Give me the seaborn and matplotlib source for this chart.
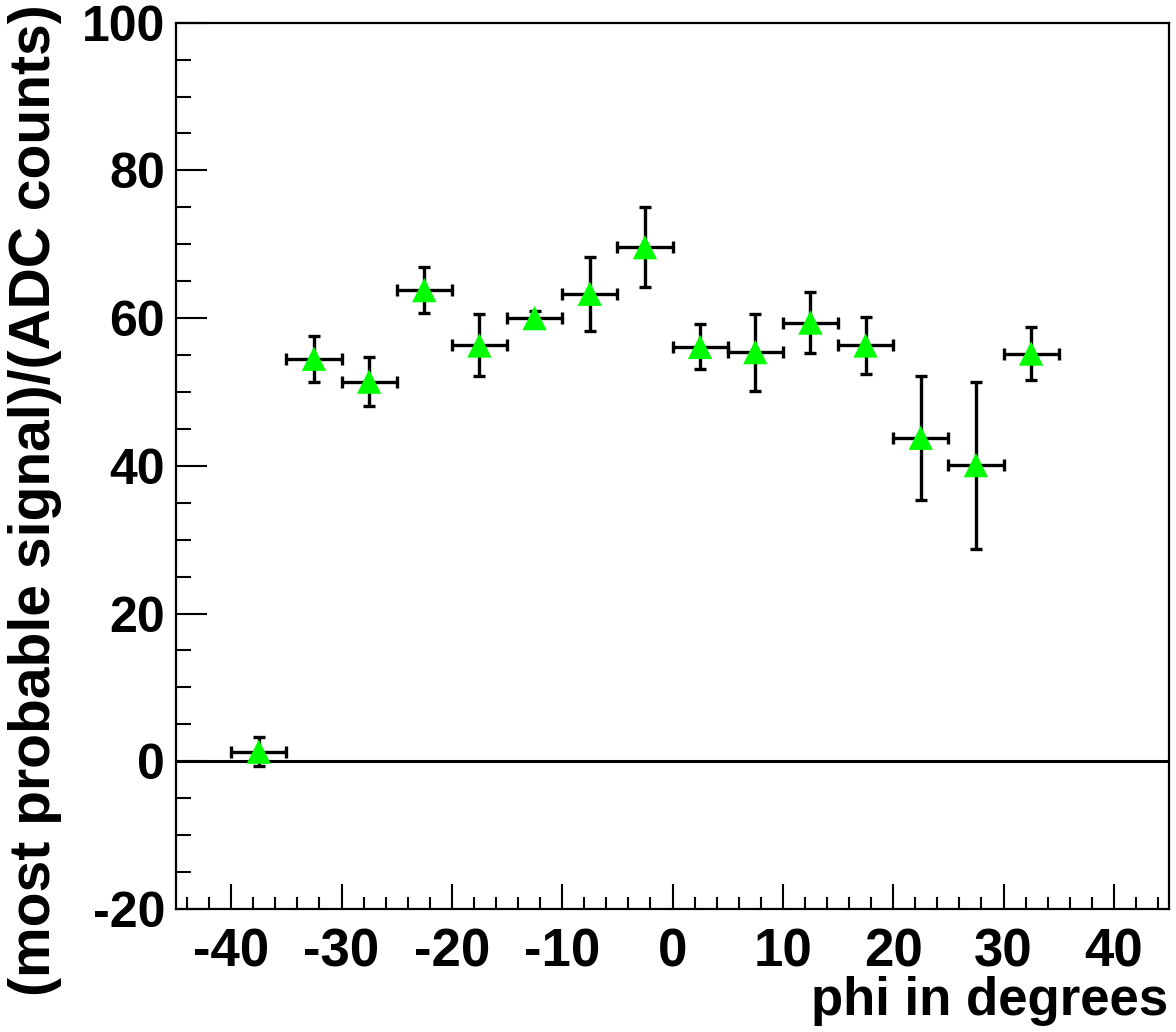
import matplotlib
matplotlib.use("Agg")
import matplotlib.pyplot as plt
from matplotlib.ticker import MultipleLocator
import seaborn as sns
import pandas as pd

# Bin centres (degrees), half bin width, most probable signal and its error
phi = [-37.5, -32.5, -27.5, -22.5, -17.5, -12.5, -7.5, -2.5,
       2.5, 7.5, 12.5, 17.5, 22.5, 27.5, 32.5]
phi_err = [2.5] * 15
signal = [1.3, 54.5, 51.4, 63.8, 56.3, 60.0, 63.3, 69.6,
          56.1, 55.4, 59.4, 56.3, 43.8, 40.1, 55.2]
signal_err = [2.0, 3.1, 3.3, 3.15, 4.2, 1.0, 5.0, 5.45,
              3.05, 5.2, 4.15, 3.8, 8.4, 11.3, 3.6]

x_ticks = [-40, -30, -20, -10, 0, 10, 20, 30, 40]
y_ticks = [-20, 0, 20, 40, 60, 80, 100]

df = pd.DataFrame({"phi": phi, "signal": signal})

sns.set_theme(style="ticks")
plt.rcParams["font.family"] = ["Liberation Sans", "DejaVu Sans"]
plt.rcParams["font.weight"] = "bold"
plt.rcParams["axes.unicode_minus"] = False

W, H = 1176, 1032
fig = plt.figure(figsize=(W / 100, H / 100), dpi=100)
ax = fig.add_axes([176 / W, 1 - 909 / H, (1169 - 176) / W, (909 - 22.7) / H])

ax.errorbar(phi, signal, xerr=phi_err, yerr=signal_err, fmt="none",
            ecolor="black", elinewidth=2.4, capsize=4.5, capthick=2.4, zorder=3)
sns.scatterplot(data=df, x="phi", y="signal", marker="^", s=17.5 ** 2,
                color="#00ff00", edgecolor="none", linewidth=0, zorder=4, ax=ax)

ax.axhline(0, color="black", lw=2.2, zorder=2)

ax.set_xlim(-45, 45)
ax.set_ylim(-20, 100)
ax.set_xticks(x_ticks)
ax.set_yticks(y_ticks)
ax.xaxis.set_minor_locator(MultipleLocator(2))
ax.yaxis.set_minor_locator(MultipleLocator(5))

for s in ax.spines.values():
    s.set_linewidth(1.6)
    s.set_color("black")

ax.tick_params(axis="x", which="major", direction="in", length=18, width=1.5,
               labelsize=38, pad=13, top=False, colors="black")
ax.tick_params(axis="x", which="minor", direction="in", length=9, width=1.5,
               top=False, colors="black")
ax.tick_params(axis="y", which="major", direction="in", length=22, width=1.5,
               labelsize=36, pad=8, right=False, colors="black")
ax.tick_params(axis="y", which="minor", direction="in", length=11, width=1.5,
               right=False, colors="black")
for lab in ax.get_xticklabels() + ax.get_yticklabels():
    lab.set_fontweight("bold")

ax.set_xlabel("phi in degrees", fontsize=38, fontweight="bold", color="black")
ax.xaxis.set_label_coords(1168 / W, 6 / H, transform=fig.transFigure)
ax.xaxis.label.set_horizontalalignment("right")
ax.xaxis.label.set_verticalalignment("bottom")

ax.set_ylabel("(most probable signal)/(ADC counts)", fontsize=41,
              fontweight="bold", color="black")
ax.yaxis.set_label_coords(8 / W, 1 - 4 / H, transform=fig.transFigure)
ax.yaxis.label.set_horizontalalignment("right")
ax.yaxis.label.set_verticalalignment("top")

fig.savefig("out.png", dpi=100, facecolor="white")
